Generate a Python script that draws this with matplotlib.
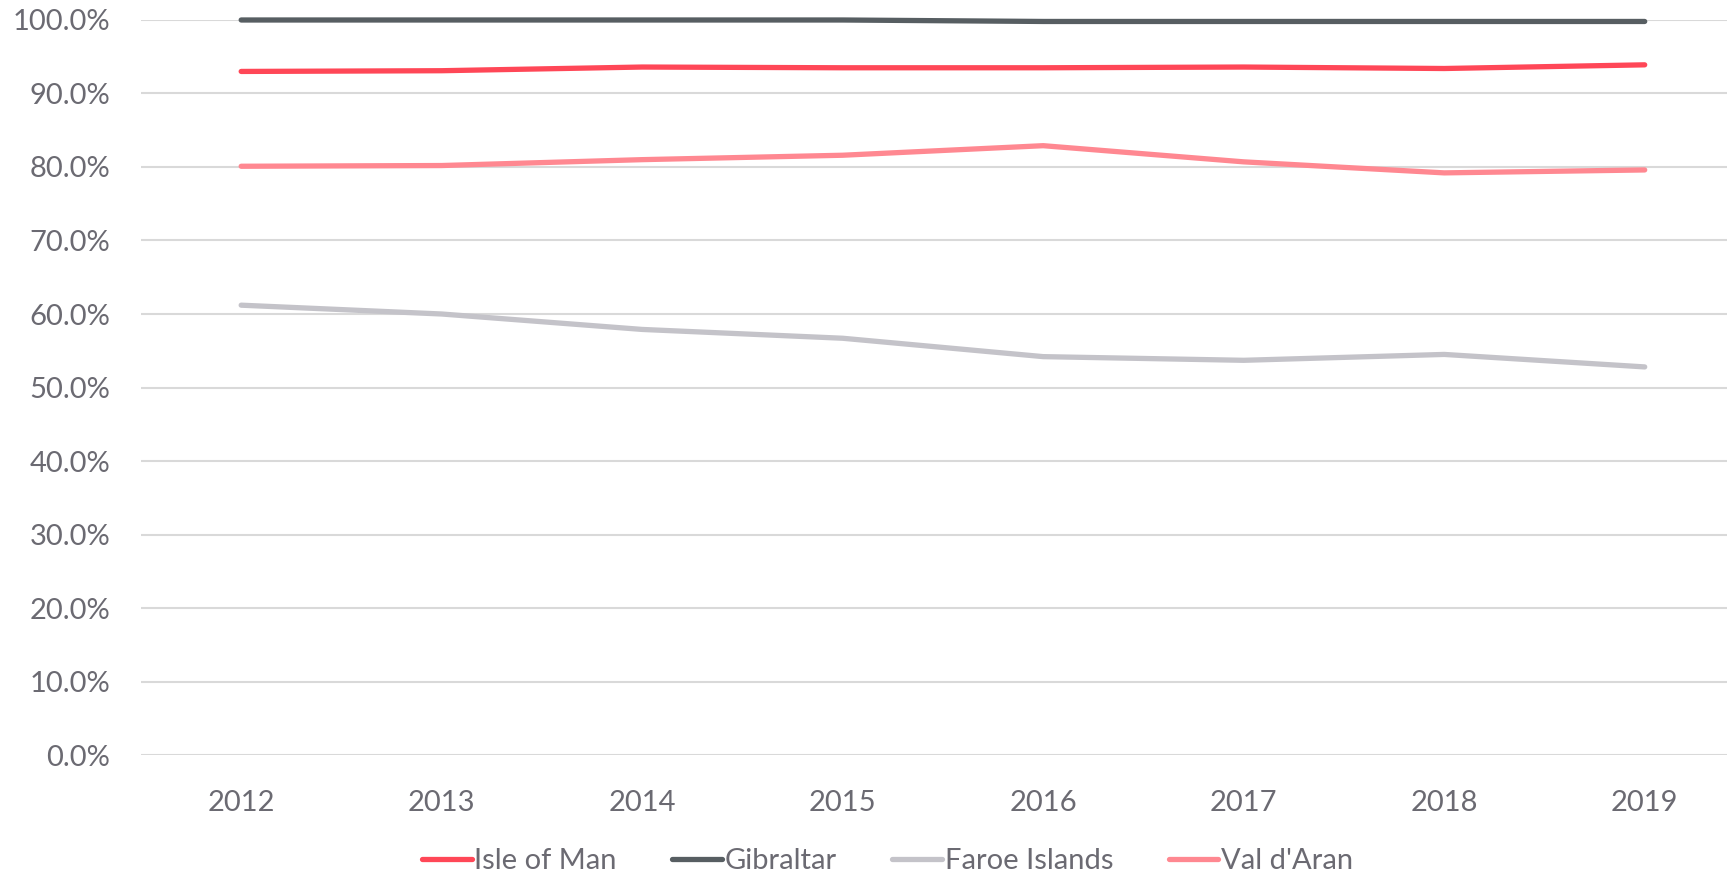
import matplotlib
matplotlib.use("Agg")
import matplotlib.pyplot as plt
from matplotlib.ticker import PercentFormatter
from matplotlib.lines import Line2D

plt.rcParams['font.family'] = ['Lato', 'DejaVu Sans']

# data (percent)
years = ['2012', '2013', '2014', '2015', '2016', '2017', '2018', '2019']
isle_of_man = [93.0, 93.1, 93.6, 93.5, 93.5, 93.6, 93.4, 93.9]
gibraltar = [100.0, 100.0, 100.0, 100.0, 99.8, 99.8, 99.8, 99.8]
faroe_islands = [61.2, 60.0, 57.9, 56.7, 54.2, 53.7, 54.5, 52.8]
val_d_aran = [80.1, 80.2, 81.0, 81.6, 82.9, 80.7, 79.2, 79.6]

series_names = ['Isle of Man', 'Gibraltar', 'Faroe Islands', "Val d'Aran"]
series_vals = [isle_of_man, gibraltar, faroe_islands, val_d_aran]
colors = ['#ff4757', '#575e62', '#c4c3c9', '#ff8891']
text_col = '#6b6a72'

fig = plt.figure(figsize=(17.27, 8.77), dpi=100)
ax = fig.add_axes([0.0816, 0.1391, 0.9288, 0.8381])

x = list(range(len(years)))
for name, vals, c in zip(series_names, series_vals, colors):
    ax.plot(x, vals, color=c, lw=3.8, solid_capstyle='round',
            solid_joinstyle='round', label=name, zorder=3, clip_on=False)

ax.set_xlim(-0.5, len(years) - 0.5)
ax.set_ylim(0, 100)
ax.set_yticks(range(0, 101, 10))
ax.yaxis.set_major_formatter(PercentFormatter(decimals=1))
ax.set_xticks(x)
ax.set_xticklabels(years)

ax.grid(axis='y', color='#d9d9d9', lw=1.5, zorder=0)
ax.set_axisbelow(True)
for s in ax.spines.values():
    s.set_visible(False)
ax.tick_params(axis='both', length=0, labelsize=21, colors=text_col)
ax.tick_params(axis='y', pad=22)
ax.tick_params(axis='x', pad=25)

handles = [Line2D([0], [0], color=c, lw=3.8, solid_capstyle='round') for c in colors]
fig.legend(handles, series_names, loc='center', bbox_to_anchor=(0.514, 0.018),
           ncol=4, frameon=False, fontsize=21, labelcolor=text_col,
           handlelength=1.7, handletextpad=0.1, columnspacing=1.9)

fig.savefig('out.png', dpi=100, facecolor='white')
